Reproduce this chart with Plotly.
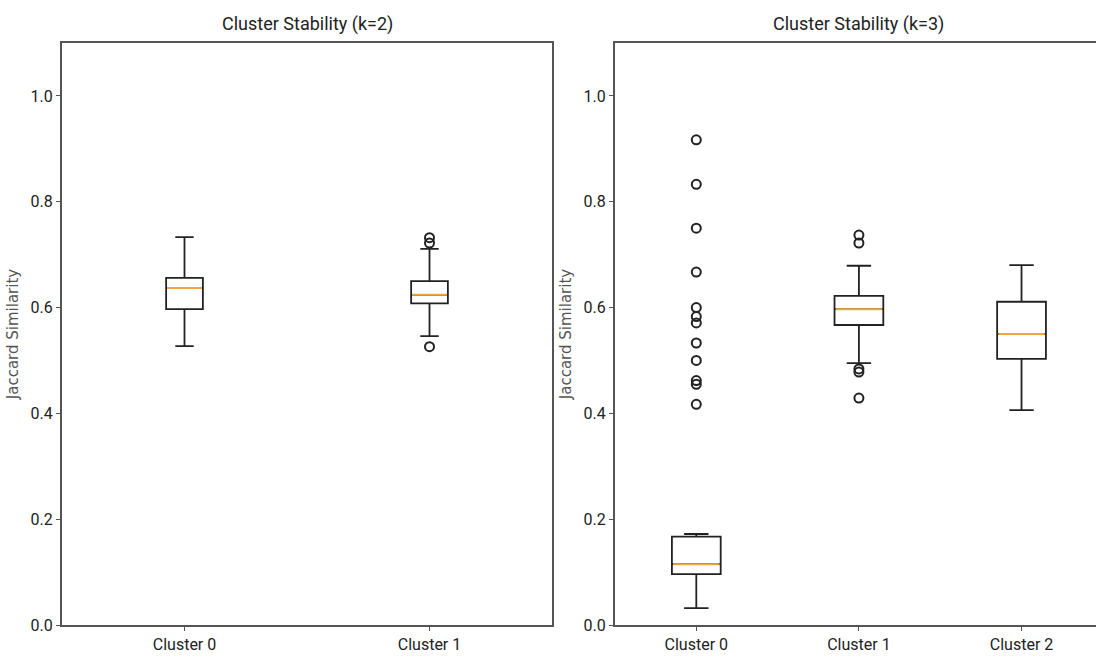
import plotly.graph_objects as go

# ---------------- data ----------------
k2_clusters = ["Cluster 0", "Cluster 1"]
k2_q1 = [0.597, 0.608]
k2_median = [0.637, 0.624]
k2_q3 = [0.656, 0.650]
k2_low = [0.527, 0.546]
k2_high = [0.733, 0.711]
k2_outliers = [[], [0.732, 0.722, 0.526]]

k3_clusters = ["Cluster 0", "Cluster 1", "Cluster 2"]
k3_q1 = [0.096, 0.567, 0.503]
k3_median = [0.115, 0.597, 0.550]
k3_q3 = [0.167, 0.622, 0.611]
k3_low = [0.032, 0.495, 0.406]
k3_high = [0.172, 0.679, 0.680]
k3_outliers = [
    [0.917, 0.833, 0.750, 0.667, 0.600, 0.583, 0.571, 0.533, 0.500, 0.462, 0.455, 0.417],
    [0.737, 0.722, 0.484, 0.478, 0.429],
    [],
]

titles = ["Cluster Stability (k=2)", "Cluster Stability (k=3)"]
y_ticks = [0.0, 0.2, 0.4, 0.6, 0.8, 1.0]
y_title = "Jaccard Similarity"

# ---------------- styling ----------------
W, H = 1096, 660
BOX_LINE = "#222222"
MEDIAN = "#eea63f"
AXIS = "#555555"
FONT = "Roboto"


def px_x(p):
    return p / W


def px_y(p):
    return 1 - p / H


fig = go.Figure()


def add_panel(clusters, q1, med, q3, lo, hi, outl, xa, ya, width):
    fig.add_trace(go.Box(
        x=clusters, q1=q1, median=med, q3=q3, lowerfence=lo, upperfence=hi,
        xaxis=xa, yaxis=ya, width=width, whiskerwidth=0.5,
        line=dict(color=BOX_LINE, width=1.8), fillcolor="rgba(255,255,255,0)",
        boxpoints=False, showlegend=False, hoverinfo="skip",
    ))
    # orange median lines drawn as degenerate boxes
    fig.add_trace(go.Box(
        x=clusters, q1=med, median=med, q3=med, lowerfence=med, upperfence=med,
        xaxis=xa, yaxis=ya, width=width * 0.95, whiskerwidth=0,
        line=dict(color=MEDIAN, width=2), fillcolor="rgba(255,255,255,0)",
        boxpoints=False, showlegend=False, hoverinfo="skip",
    ))
    ox, oy = [], []
    for c, vals in zip(clusters, outl):
        for v in vals:
            ox.append(c)
            oy.append(v)
    if ox:
        fig.add_trace(go.Scatter(
            x=ox, y=oy, mode="markers", xaxis=xa, yaxis=ya,
            marker=dict(symbol="circle-open", size=9, color=BOX_LINE,
                        line=dict(width=2, color=BOX_LINE)),
            showlegend=False, hoverinfo="skip",
        ))


add_panel(k2_clusters, k2_q1, k2_median, k2_q3, k2_low, k2_high, k2_outliers, "x", "y", 0.15)
add_panel(k3_clusters, k3_q1, k3_median, k3_q3, k3_low, k3_high, k3_outliers, "x2", "y2", 0.30)

ydom = [px_y(625), px_y(43)]
tick_font = dict(family=FONT, size=16, color="#222222")
ytitle_font = dict(family="DejaVu Sans", size=15, color="#555555")

common_x = dict(type="category", showgrid=False, zeroline=False, showline=True,
                linecolor=AXIS, linewidth=2, ticks="outside", ticklen=4,
                tickcolor=AXIS, tickfont=tick_font, automargin=False)
common_y = dict(range=[0, 1.1], tickvals=y_ticks, tickformat=".1f", showgrid=False,
                zeroline=False, showline=True, linecolor=AXIS, linewidth=2,
                ticks="outside", ticklen=4, tickcolor=AXIS, tickfont=tick_font,
                automargin=False,
                title=dict(text=y_title, font=ytitle_font, standoff=8))

fig.update_layout(
    width=W, height=H,
    margin=dict(l=0, r=0, t=0, b=0),
    paper_bgcolor="white", plot_bgcolor="white",
    boxmode="overlay",
    xaxis=dict(common_x, domain=[px_x(62), px_x(552)], range=[-0.5, 1.5],
               mirror=True, anchor="y"),
    yaxis=dict(common_y, domain=ydom, mirror=True, anchor="x"),
    xaxis2=dict(common_x, domain=[px_x(615), 1.0], range=[-0.5, 2.458],
                mirror=True, anchor="y2"),
    yaxis2=dict(common_y, domain=ydom, mirror=False, anchor="x2"),
    annotations=[
        dict(text=titles[0], x=px_x(307), y=px_y(24), xref="paper",
             yref="paper", showarrow=False, font=dict(family=FONT, size=18, color="#222222"),
             xanchor="center", yanchor="middle"),
        dict(text=titles[1], x=px_x(858), y=px_y(24), xref="paper",
             yref="paper", showarrow=False, font=dict(family=FONT, size=18, color="#222222"),
             xanchor="center", yanchor="middle"),
    ],
)

fig.write_html(
    "out.html",
    config={"displayModeBar": False},
    post_script="document.body.style.margin='0';document.body.style.overflow='hidden';",
)
